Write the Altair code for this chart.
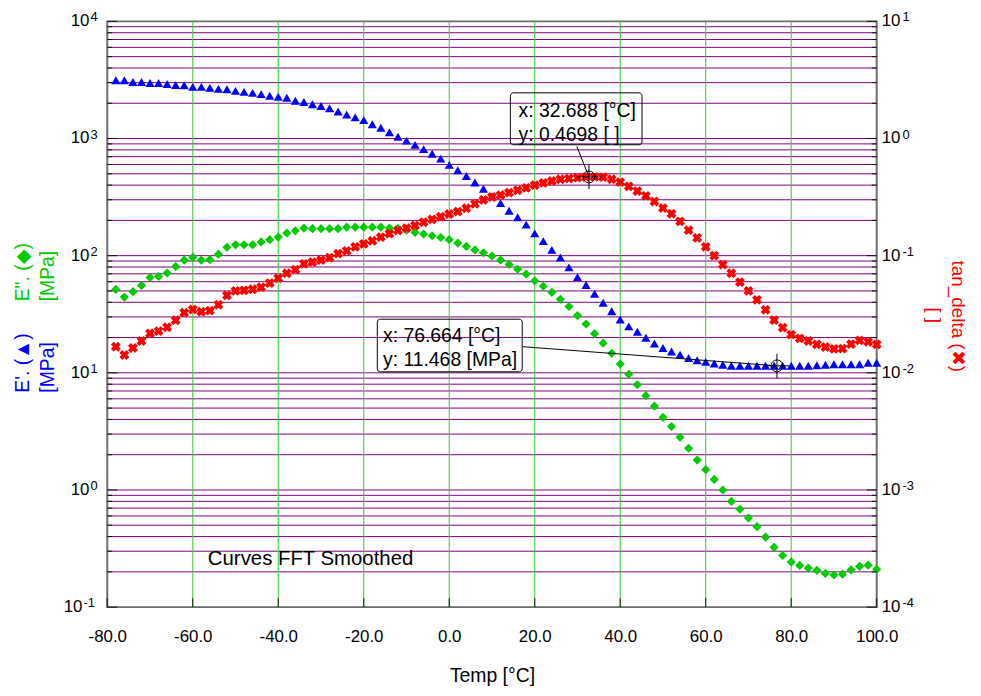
import math
import altair as alt
import pandas as pd

# ---------------- data ----------------
temps = [
    -78, -76, -74, -72, -70, -68, -66, -64, -62, -60,
    -58, -56, -54, -52, -50, -48, -46, -44, -42, -40,
    -38, -36, -34, -32, -30, -28, -26, -24, -22, -20,
    -18, -16, -14, -12, -10, -8, -6, -4, -2, 0,
    2, 4, 6, 8, 10, 12, 14, 16, 18, 20,
    22, 24, 26, 28, 30, 32, 34, 36, 38, 40,
    42, 44, 46, 48, 50, 52, 54, 56, 58, 60,
    62, 64, 66, 68, 70, 72, 74, 76, 78, 80,
    82, 84, 86, 88, 90, 92, 94, 96, 98, 100,
]
e_storage = [
    3145, 3140, 3040, 3040, 2983, 2983, 2925, 2868, 2852, 2759,
    2759, 2705, 2652, 2637, 2551, 2502, 2454, 2393, 2315, 2270,
    2226, 2099, 2051, 1961, 1893, 1810, 1700, 1599, 1515, 1435,
    1324, 1237, 1131, 1034, 960, 883, 812, 742, 674, 596,
    536, 478, 422, 372, 322, 281, 242, 213, 184, 155,
    133, 112, 96.5, 79.4, 65.6, 56.1, 47.3, 39.7, 33.5, 28.5,
    24.9, 22.4, 19.9, 17.8, 16.3, 15.2, 14.3, 13.4, 12.8, 12.4,
    12.0, 11.7, 11.5, 11.5, 11.5, 11.5, 11.5, 11.5, 11.5, 11.5,
    11.5, 11.5, 11.6, 11.7, 11.85, 11.85, 11.85, 11.85, 12.2, 12.2,
]
e_loss = [
    51.5, 44.3, 49.3, 55.7, 65.1, 66.4, 71.1, 80.7, 91.6, 96.7,
    91.6, 92.5, 103, 118, 124, 124, 124, 131, 137, 144,
    156, 163, 172, 170, 170, 170, 170, 175, 175, 175,
    175, 175, 172, 171, 165, 158, 153, 148, 143, 137,
    128, 120, 112, 106, 99.4, 91.6, 84.1, 76.7, 69.7, 61.1,
    54.8, 48.6, 42.4, 36.8, 30.8, 26.1, 21.6, 17.9, 14.7, 11.9,
    9.73, 7.91, 6.38, 5.19, 4.16, 3.48, 2.82, 2.27, 1.80, 1.49,
    1.23, 1.00, 0.799, 0.685, 0.576, 0.486, 0.396, 0.324, 0.276, 0.243,
    0.227, 0.215, 0.206, 0.194, 0.188, 0.191, 0.208, 0.223, 0.228, 0.21,
]
tan_delta = [
    0.0167, 0.0142, 0.0163, 0.0187, 0.0217, 0.0227, 0.0245, 0.0281, 0.0326, 0.0347,
    0.0332, 0.0339, 0.0381, 0.0458, 0.0500, 0.0505, 0.0517, 0.0538, 0.0583, 0.0642,
    0.0708, 0.0761, 0.0852, 0.0881, 0.0916, 0.0962, 0.104, 0.110, 0.119, 0.126,
    0.134, 0.144, 0.154, 0.164, 0.172, 0.181, 0.193, 0.204, 0.215, 0.227,
    0.238, 0.254, 0.277, 0.299, 0.317, 0.329, 0.345, 0.362, 0.379, 0.400,
    0.418, 0.434, 0.449, 0.456, 0.463, 0.469, 0.470, 0.468, 0.449, 0.425,
    0.390, 0.356, 0.324, 0.290, 0.255, 0.228, 0.196, 0.165, 0.142, 0.119,
    0.100, 0.0839, 0.0708, 0.0595, 0.0501, 0.0420, 0.0345, 0.0282, 0.0243, 0.0212,
    0.0197, 0.0187, 0.0175, 0.0166, 0.0160, 0.0161, 0.0176, 0.0189, 0.0184, 0.0175,
]

x_ticks = [-80, -60, -40, -20, 0, 20, 40, 60, 80, 100]
x_grid = [-60, -40, -20, 0, 20, 40, 60, 80]
left_decades = [0.1, 1, 10, 100, 1000, 10000]
right_decades = [0.0001, 0.001, 0.01, 0.1, 1, 10]
minor_mult = [2, 3, 4, 5, 6, 7, 8, 9]
left_minor = [m * d for d in left_decades[:-1] for m in minor_mult]
right_minor = [m * d for d in right_decades[:-1] for m in minor_mult]

# cursor read-outs
peak = {"temp": 32.688, "value": 0.4698}
plateau = {"temp": 76.664, "value": 11.468}
box1_lines = ["x: 32.688 [°C]", "y: 0.4698 [ ]"]
box2_lines = ["x: 76.664 [°C]", "y: 11.468 [MPa]"]
note_text = "Curves FFT Smoothed"

# ---------------- layout ----------------
W, H = 775, 590
FONT = "Liberation Sans"

x_scale = alt.Scale(domain=[-80, 100], nice=False, zero=False)
yl_scale = alt.Scale(type="log", domain=[0.1, 10000], nice=False)
yr_scale = alt.Scale(type="log", domain=[0.0001, 10], nice=False)

x_axis = alt.Axis(
    values=x_ticks, grid=False, ticks=False, tickSize=0, domain=False,
    labelExpr="(datum.value < 0 ? '-' : '') + format(abs(datum.value), '.1f')",
    labelFont=FONT, labelFontSize=17, labelColor="black", labelPadding=22,
    labelFlush=False, labelOverlap=False,
    title="Temp [°C]", titleFont=FONT, titleFontSize=19.5, titleFontWeight="normal",
    titleColor="black", titleX=W / 2, titleY=69, titleBaseline="middle", titleAlign="center",
)
left_axis = alt.Axis(values=left_decades, labels=False, grid=False, ticks=False,
                     tickSize=0, domain=False, title=None)
right_axis = alt.Axis(orient="right", values=right_decades, labels=False, grid=False,
                      ticks=False, tickSize=0, domain=False, title=None)

df = pd.DataFrame({"temp": temps, "E1": e_storage, "E2": e_loss, "tan": tan_delta})


# every layer carries the identical axis definition so that they merge into one
def XQ(field):
    return alt.X(field, type="quantitative", scale=x_scale, axis=x_axis)


def YL(field):
    return alt.Y(field, type="quantitative", scale=yl_scale, axis=left_axis)


def YR(field):
    return alt.Y(field, type="quantitative", scale=yr_scale, axis=right_axis)


# decade labels "10" with a raised exponent
def decade_labels(decades, yfun, x_base, x_exp, align_base):
    d = pd.DataFrame({
        "v": decades,
        "e": [str(round(math.log10(v))) for v in decades],
    })
    d["b"] = "10"
    base10 = alt.Chart(d).mark_text(
        align=align_base, baseline="middle", font=FONT, fontSize=17, color="black"
    ).encode(y=yfun("v"), x=alt.value(x_base), text="b:N")
    expo = alt.Chart(d).mark_text(
        align="left", baseline="middle", font=FONT, fontSize=13, color="black", dy=-4
    ).encode(y=yfun("v"), x=alt.value(x_exp), text="e:N")
    return [base10, expo]


left_pos = [v for v in left_decades if v >= 1]
left_neg = [v for v in left_decades if v < 1]
right_pos = [v for v in right_decades if v >= 1]
right_neg = [v for v in right_decades if v < 1]

left_labels = (decade_labels(left_pos, YL, -18, -17, "right")
               + decade_labels(left_neg, YL, -25, -24, "right"))
right_labels = (decade_labels(right_pos, YR, W + 5, W + 26, "left")
                + decade_labels(right_neg, YR, W + 5, W + 26, "left"))

# grid lines
purple_grid = alt.Chart(pd.DataFrame({"v": left_minor + left_decades[1:-1]})).mark_rule(
    color="#800080", strokeWidth=1
).encode(y=YL("v"))
green_grid = alt.Chart(pd.DataFrame({"t": x_grid})).mark_rule(
    color="#33cc33", strokeWidth=1
).encode(x=XQ("t"))

# inward tick marks
left_minor_ticks = alt.Chart(pd.DataFrame({"v": left_minor})).mark_rule(color="#111").encode(
    y=YL("v"), x=alt.value(0), x2=alt.value(5))
left_major_ticks = alt.Chart(pd.DataFrame({"v": left_decades})).mark_rule(color="#111").encode(
    y=YL("v"), x=alt.value(0), x2=alt.value(10))
bottom_ticks = alt.Chart(pd.DataFrame({"t": x_ticks})).mark_rule(color="#111").encode(
    x=XQ("t"), y=alt.value(H - 9), y2=alt.value(H))
right_minor_ticks = alt.Chart(pd.DataFrame({"v": right_minor})).mark_rule(color="#111").encode(
    y=YR("v"), x=alt.value(W - 5), x2=alt.value(W))
right_major_ticks = alt.Chart(pd.DataFrame({"v": right_decades})).mark_rule(color="#111").encode(
    y=YR("v"), x=alt.value(W - 10), x2=alt.value(W))

# data series
base = alt.Chart(df)
blue = base.mark_point(shape="triangle-up", filled=True, size=85, color="#0000ff", opacity=1).encode(
    x=XQ("temp"), y=YL("E1"))
green = base.mark_point(shape="diamond", filled=True, size=85, color="#00cc00", opacity=1).encode(
    x=XQ("temp"), y=YL("E2"))
red = base.mark_point(shape="cross", angle=45, filled=True, size=100, color="#ff0000", opacity=1).encode(
    x=XQ("temp"), y=YR("tan"))

# annotation 2 (left scale)
box2 = alt.Chart(pd.DataFrame({"x": [-16.83], "x2": [17.07], "y": [28.68], "y2": [10.2]})).mark_rect(
    fillOpacity=0, stroke="black", strokeWidth=1, cornerRadius=3
).encode(x=XQ("x"), x2="x2:Q", y=YL("y"), y2="y2:Q")
box2_text = alt.Chart(pd.DataFrame({"t": [-15.5, -15.5], "v": [20.71, 12.89], "s": box2_lines})).mark_text(
    align="left", baseline="middle", font=FONT, fontSize=19.5, color="black"
).encode(x=XQ("t"), y=YL("v"), text="s:N")
leader2 = alt.Chart(pd.DataFrame({"x": [17.22], "x2": [plateau["temp"]], "y": [16.71], "y2": [plateau["value"]]})).mark_rule(
    color="black", strokeWidth=1
).encode(x=XQ("x"), x2="x2:Q", y=YL("y"), y2="y2:Q")
cross2 = alt.Chart(pd.DataFrame([plateau])).mark_point(
    shape="M-1,0L1,0M0,-1L0,1", size=600, filled=False, color="black", strokeWidth=1, opacity=1
).encode(x=XQ("temp"), y=YL("value"))
circ2 = alt.Chart(pd.DataFrame([plateau])).mark_point(
    shape="circle", size=144, filled=False, color="black", strokeWidth=1, opacity=1
).encode(x=XQ("temp"), y=YL("value"))
note = alt.Chart(pd.DataFrame({"t": [-56.47], "v": [0.255], "s": [note_text]})).mark_text(
    align="left", baseline="middle", font=FONT, fontSize=20.5, color="black"
).encode(x=XQ("t"), y=YL("v"), text="s:N")


# rotated two-line side titles
def side_label(text, x, y, color, angle, align, size=19.5):
    return alt.Chart(pd.DataFrame({"s": [text]})).mark_text(
        angle=angle, align=align, baseline="middle", font=FONT, fontSize=size, color=color
    ).encode(x=alt.value(x), y=alt.value(y), text="s:N")


titles_left = [
    side_label('E". (◆)', -85, 282, "#00cc00", 270, "left"),
    side_label("[MPa]", -60, 282, "#00cc00", 270, "left"),
    side_label("E'. (▲)", -85, 374, "#0000ff", 270, "left"),
    side_label("[MPa]", -60, 374, "#0000ff", 270, "left"),
]
titles_right = [
    side_label("tan_delta (✖)", 857, 297, "#ff0000", 90, "center", 19),
    side_label("[ ]", 833, 296, "#ff0000", 90, "center", 19),
]

# annotation 1 (right scale)
box1 = alt.Chart(pd.DataFrame({"x": [14.3], "x2": [45.1], "y": [2.454], "y2": [0.8844]})).mark_rect(
    fillOpacity=0, stroke="black", strokeWidth=1, cornerRadius=3
).encode(x=XQ("x"), x2="x2:Q", y=YR("y"), y2="y2:Q")
box1_text = alt.Chart(pd.DataFrame({"t": [16.2, 16.2], "v": [1.717, 1.075], "s": box1_lines})).mark_text(
    align="left", baseline="middle", font=FONT, fontSize=19.5, color="black"
).encode(x=XQ("t"), y=YR("v"), text="s:N")
leader1 = alt.Chart(pd.DataFrame({"x": [29.85], "x2": [peak["temp"]], "y": [0.8554], "y2": [peak["value"]]})).mark_rule(
    color="black", strokeWidth=1
).encode(x=XQ("x"), x2="x2:Q", y=YR("y"), y2="y2:Q")
cross1 = alt.Chart(pd.DataFrame([peak])).mark_point(
    shape="M-1,0L1,0M0,-1L0,1", size=600, filled=False, color="black", strokeWidth=1, opacity=1
).encode(x=XQ("temp"), y=YR("value"))
circ1 = alt.Chart(pd.DataFrame([peak])).mark_point(
    shape="circle", size=144, filled=False, color="black", strokeWidth=1, opacity=1
).encode(x=XQ("temp"), y=YR("value"))

left = alt.layer(
    purple_grid, green_grid, left_minor_ticks, left_major_ticks, bottom_ticks,
    blue, green, box2, box2_text, leader2, cross2, circ2, note, *left_labels, *titles_left,
)
right = alt.layer(
    right_minor_ticks, right_major_ticks, red, box1, box1_text, leader1, cross1, circ1,
    *right_labels, *titles_right,
)

chart = alt.layer(left, right).resolve_scale(y="independent").properties(
    width=W, height=H,
    padding={"left": 100, "top": 11, "right": 97, "bottom": 79},
    autosize=alt.AutoSizeParams(type="none"),
).configure_view(stroke="#6e6e6e", strokeWidth=2)

chart.save("out.html", embed_options={"renderer": "svg", "actions": False})
